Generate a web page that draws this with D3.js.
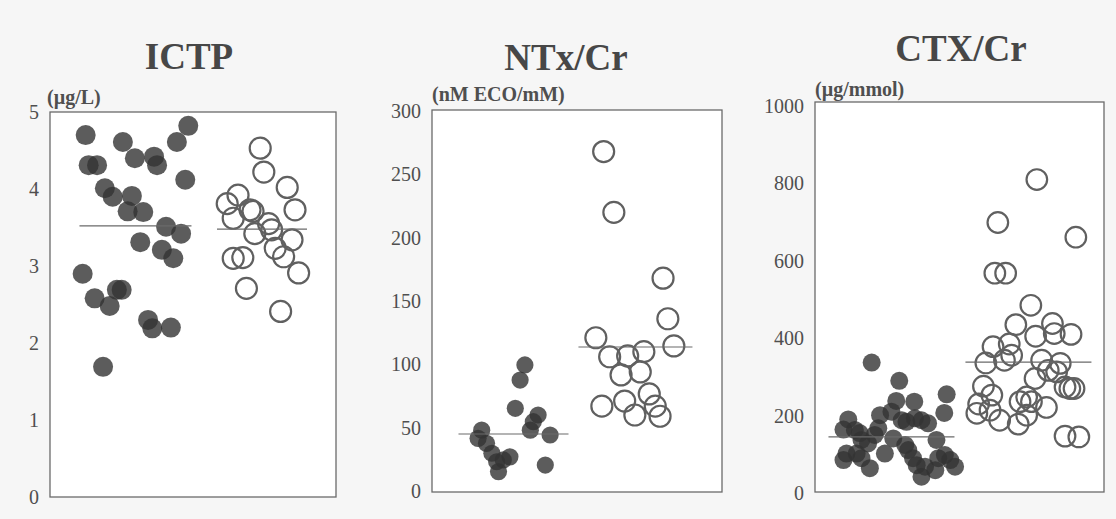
<!DOCTYPE html>
<html>
<head>
<meta charset="utf-8">
<script src="https://cdn.jsdelivr.net/npm/d3@7"></script>
<style>
  html, body { margin: 0; padding: 0; background: #f6f6f6; }
  svg { display: block; }
</style>
</head>
<body>
<svg id="chart" width="1116" height="519"></svg>
<script>
// Panel titles, units and axis ticks
const titles = ["ICTP", "NTx/Cr", "CTX/Cr"];
const units = ["(µg/L)", "(nM ECO/mM)", "(µg/mmol)"];
const ictpTicks = [0, 1, 2, 3, 4, 5];
const ntxTicks = [0, 50, 100, 150, 200, 250, 300];
const ctxTicks = [0, 200, 400, 600, 800, 1000];

// Each point: [horizontal jitter within its group (-1..1), value]
const ictpFilled = [
  [-0.83, 4.70], [-0.78, 4.31], [-0.64, 4.31], [-0.21, 4.61], [-0.01, 4.40],
  [0.31, 4.42], [0.36, 4.31], [0.69, 4.61], [0.88, 4.82], [0.83, 4.12],
  [-0.51, 4.01], [-0.38, 3.90], [-0.06, 3.91], [-0.13, 3.71], [0.13, 3.70],
  [0.51, 3.51], [0.76, 3.42], [0.08, 3.31], [0.44, 3.21], [0.63, 3.10],
  [-0.88, 2.90], [-0.68, 2.58], [-0.43, 2.48], [-0.31, 2.69], [-0.23, 2.69],
  [0.21, 2.30], [0.28, 2.19], [0.59, 2.20], [-0.54, 1.69]
];
const ictpOpen = [
  [-0.03, 4.53], [0.03, 4.22], [0.42, 4.02], [0.55, 3.73], [-0.58, 3.81],
  [-0.40, 3.92], [-0.48, 3.62], [-0.20, 3.73], [-0.15, 3.71], [-0.12, 3.42],
  [0.11, 3.55], [0.16, 3.47], [0.50, 3.34], [0.22, 3.23], [0.36, 3.12],
  [0.61, 2.91], [-0.48, 3.10], [-0.32, 3.11], [-0.26, 2.71], [0.31, 2.41]
];
const ntxFilled = [
  [0.19, 99.5], [0.11, 87.6], [0.03, 65.3], [0.41, 60.0], [0.33, 54.7],
  [0.28, 48.0], [0.61, 44.2], [-0.53, 48.0], [-0.59, 41.6], [-0.45, 37.6],
  [-0.36, 29.8], [-0.28, 23.1], [-0.25, 15.3], [-0.06, 27.0], [-0.17, 24.5],
  [0.53, 20.5]
];
const ntxOpen = [
  [-0.53, 268], [-0.36, 220], [0.46, 168], [0.54, 136], [0.64, 114.5],
  [-0.66, 121], [-0.43, 106], [-0.13, 106.6], [0.14, 110], [-0.24, 91.6],
  [0.08, 94], [-0.56, 67], [-0.18, 71], [-0.01, 60], [0.23, 76.6],
  [0.33, 67], [0.41, 59]
];
const ctxFilled = [
  [-0.33, 337], [0.13, 290], [0.08, 238], [0.38, 236], [0.92, 255],
  [0.88, 207], [-0.72, 190], [-0.80, 164], [-0.61, 163], [-0.19, 201],
  [0.00, 210], [0.17, 188], [0.25, 184], [0.50, 188], [0.61, 180],
  [-0.22, 167], [-0.28, 150], [-0.50, 137], [-0.39, 128], [0.03, 141],
  [0.75, 137], [-0.75, 102], [-0.58, 102], [-0.80, 85], [-0.50, 90],
  [-0.11, 102], [0.23, 124], [0.28, 111], [0.36, 90], [0.42, 72],
  [0.50, 42], [-0.36, 64], [0.56, 68], [0.78, 90], [0.89, 98],
  [0.98, 85], [0.73, 59], [1.06, 68], [-0.53, 155], [0.39, 193]
];
const ctxOpen = [
  [0.14, 810], [-0.51, 699], [0.79, 661], [-0.56, 568], [-0.38, 568],
  [0.04, 485], [-0.21, 435], [0.40, 438], [0.43, 412], [0.71, 410],
  [0.12, 405], [-0.59, 378], [-0.32, 385], [-0.28, 356], [-0.40, 343],
  [-0.71, 336], [0.22, 343], [0.53, 335], [0.33, 317], [0.47, 313],
  [0.11, 296], [-0.75, 276], [0.61, 274], [0.69, 270], [0.76, 270],
  [-0.61, 253], [-0.03, 248], [0.30, 221], [-0.83, 230], [-0.14, 236],
  [0.05, 236], [-0.86, 206], [-0.64, 214], [-0.48, 188], [-0.17, 178],
  [-0.03, 201], [0.61, 147], [0.84, 145]
];

// Group means (filled group, open group)
const ictpMeans = [3.52, 3.48];
const ntxMeans = [45, 113.7];
const ctxMeans = [145, 338];

const groups = ["filled", "open"];

const panels = [
  { title: titles[0], unit: units[0], ticks: ictpTicks, domain: [0, 5],
    filled: ictpFilled, open: ictpOpen, means: ictpMeans,
    box: { left: 50, right: 336, top: 112, bottom: 497 }, yRange: [497, 112],
    padding: 0.63, align: 0.536, lineHalf: [56, 45], rFilled: 10, rOpen: 10.5,
    titleDx: -4, titleY: 69, unitY: 104, unitX: 47 },
  { title: titles[1], unit: units[1], ticks: ntxTicks, domain: [0, 300],
    filled: ntxFilled, open: ntxOpen, means: ntxMeans,
    box: { left: 432, right: 722, top: 110, bottom: 492 }, yRange: [491, 111],
    padding: 0.689, align: 0.485, lineHalf: [55, 57], rFilled: 8.6, rOpen: 10.5,
    titleDx: -11, titleY: 70, unitY: 101, unitX: 432 },
  { title: titles[2], unit: units[2], ticks: ctxTicks, domain: [0, 1000],
    filled: ctxFilled, open: ctxOpen, means: ctxMeans,
    box: { left: 815, right: 1104, top: 102, bottom: 492 }, yRange: [493, 106],
    padding: 0.555, align: 0.503, lineHalf: [63, 63], rFilled: 9, rOpen: 10.3,
    titleDx: 1.5, titleY: 61, unitY: 96, unitX: 815 }
];

const svg = d3.select("#chart");
const serif = "'Liberation Serif', 'Times New Roman', 'DejaVu Serif', serif";
const jitterHalf = 60;

panels.forEach(p => {
  const g = svg.append("g");
  const y = d3.scaleLinear().domain(p.domain).range(p.yRange);
  const x = d3.scalePoint().domain(groups)
    .range([p.box.left, p.box.right]).padding(p.padding).align(p.align);
  const jitter = d3.scaleLinear().domain([-1, 1]).range([-jitterHalf, jitterHalf]);

  // plot frame
  g.append("rect")
    .attr("x", p.box.left).attr("y", p.box.top)
    .attr("width", p.box.right - p.box.left)
    .attr("height", p.box.bottom - p.box.top)
    .attr("fill", "#ffffff").attr("stroke", "#6a6a6a").attr("stroke-width", 1.3);

  // y axis labels (no tick marks, just numbers)
  const axis = d3.axisLeft(y).tickValues(p.ticks).tickSize(0).tickPadding(11)
    .tickFormat(d3.format("d"));
  const ax = g.append("g").attr("transform", `translate(${p.box.left},0)`).call(axis);
  ax.select(".domain").remove();
  ax.selectAll("text")
    .attr("font-family", serif).attr("font-size", 20).attr("fill", "#4f4f4f");

  // title and unit
  g.append("text")
    .attr("x", (p.box.left + p.box.right) / 2 + p.titleDx).attr("y", p.titleY)
    .attr("text-anchor", "middle")
    .attr("font-family", serif).attr("font-weight", "bold").attr("font-size", 37)
    .attr("fill", "#474747").text(p.title);
  g.append("text")
    .attr("x", p.unitX).attr("y", p.unitY)
    .attr("font-family", serif).attr("font-weight", "bold").attr("font-size", 20)
    .attr("fill", "#4f4f4f").text(p.unit);

  // filled markers
  g.append("g").selectAll("circle").data(p.filled).join("circle")
    .attr("cx", d => x("filled") + jitter(d[0]))
    .attr("cy", d => y(d[1]))
    .attr("r", p.rFilled)
    .attr("fill", "#333333").attr("fill-opacity", 0.8);

  // open markers
  g.append("g").selectAll("circle").data(p.open).join("circle")
    .attr("cx", d => x("open") + jitter(d[0]))
    .attr("cy", d => y(d[1]))
    .attr("r", p.rOpen)
    .attr("fill", "none").attr("stroke", "#606060").attr("stroke-width", 2.2);

  // group mean lines
  groups.forEach((grp, i) => {
    g.append("line")
      .attr("x1", x(grp) - p.lineHalf[i]).attr("x2", x(grp) + p.lineHalf[i])
      .attr("y1", y(p.means[i])).attr("y2", y(p.means[i]))
      .attr("stroke", "#6a6a6a").attr("stroke-width", 1.2);
  });
});
</script>
</body>
</html>
